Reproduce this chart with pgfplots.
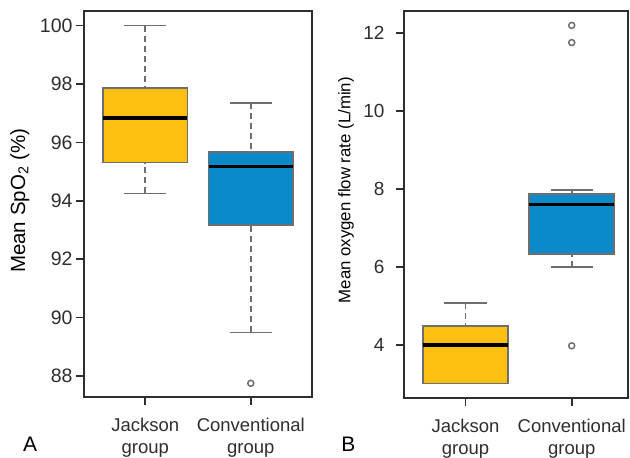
\documentclass[border=0pt]{standalone}
\usepackage{pgfplots}
\pgfplotsset{compat=1.18}
\usepgfplotslibrary{statistics}
\usepackage{fontspec}
\setmainfont{Liberation Sans}
\definecolor{jyellow}{HTML}{FDC010}
\definecolor{cblue}{HTML}{0A8AC8}
\definecolor{boxgray}{HTML}{6E6E6E}
\definecolor{axgray}{HTML}{2E2E2E}
\pgfplotsset{
  panel/.style={
    scale only axis,
    anchor=south west,
    clip mode=individual,
    axis line style={axgray, line width=1.8pt},
    tick pos=left,
    tick align=outside,
    major tick length=8pt,
    tick style={axgray, line width=1.6pt},
    xtick={1,2},
    xticklabels={{Jackson\\group},{Conventional\\group}},
    xticklabel style={align=center, font=\fontsize{18.5}{21.5}\selectfont, text=axgray, yshift=-10pt},
    yticklabel style={font=\fontsize{19.5}{22}\selectfont, text=axgray},
    /pgf/number format/assume math mode=true,
    boxplot/draw direction=y,
    boxplot/box extend=0.8,
    boxplot/whisker extend=0.4,
    boxplot/draw/lower whisker/.code={%
      \draw[boxgray, line width=1.7pt, dash pattern=on 6pt off 4pt]
        (boxplot cs:\pgfplotsboxplotvalue{lower whisker}) --
        (boxplot cs:\pgfplotsboxplotvalue{lower quartile});
      \draw[boxgray, line width=1.7pt]
        (boxplot whisker cs:\pgfplotsboxplotvalue{lower whisker},0) --
        (boxplot whisker cs:\pgfplotsboxplotvalue{lower whisker},1);
    },
    boxplot/draw/upper whisker/.code={%
      \draw[boxgray, line width=1.7pt, dash pattern=on 6pt off 4pt]
        (boxplot cs:\pgfplotsboxplotvalue{upper whisker}) --
        (boxplot cs:\pgfplotsboxplotvalue{upper quartile});
      \draw[boxgray, line width=1.7pt]
        (boxplot whisker cs:\pgfplotsboxplotvalue{upper whisker},0) --
        (boxplot whisker cs:\pgfplotsboxplotvalue{upper whisker},1);
    },
    boxplot/every median/.style={black, line width=3.4pt},
  },
  ybox/.style={boxplot/every box/.style={fill=jyellow, draw=boxgray, line width=1.6pt}},
  bbox/.style={boxplot/every box/.style={fill=cblue, draw=boxgray, line width=1.6pt}},
  outl/.style={only marks, mark=o, mark size=3pt, boxgray, mark options={line width=1.5pt}},
}
\begin{document}
\begin{tikzpicture}
\useasboundingbox (0,0) rectangle (630pt,458pt);
% Panel A
\begin{axis}[panel,
  at={(84pt,61pt)}, width=228pt, height=386pt,
  xmin=0.42, xmax=2.58, ymin=87.28, ymax=100.5,
  ytick={88,90,92,94,96,98,100},
  ylabel={Mean SpO\textsubscript{2} (\%)},
  ylabel style={at={(axis description cs:-0.281,0.508)}, anchor=center, font=\fontsize{20.5}{24}\selectfont, text=black},
]
\addplot[ybox, boxplot prepared={draw position=1,
  lower whisker=94.25, lower quartile=95.31, median=96.84,
  upper quartile=97.86, upper whisker=100.0}] coordinates {};
\addplot[bbox, boxplot prepared={draw position=2,
  lower whisker=89.49, lower quartile=93.18, median=95.18,
  upper quartile=95.68, upper whisker=97.34}] coordinates {};
\addplot[outl] coordinates {(2,87.75)};
\node[anchor=base west, inner sep=0pt, font=\fontsize{21}{24}\selectfont] at (axis description cs:-0.2675,-0.142) {A};
\end{axis}
% Panel B
\begin{axis}[panel,
  at={(404pt,60pt)}, width=224pt, height=387pt,
  xmin=0.42, xmax=2.53, ymin=2.64, ymax=12.57,
  ytick={4,6,8,10,12},
  yticklabel style={font=\fontsize{19}{22}\selectfont, xshift=-8pt},
  ylabel={Mean oxygen flow rate (L/min)},
  ylabel style={at={(axis description cs:-0.259,0.537)}, anchor=center, font=\fontsize{16.8}{19}\selectfont, text=black},
]
\addplot[ybox, boxplot prepared={draw position=1,
  lower whisker=3.01, lower quartile=3.01, median=4.0,
  upper quartile=4.48, upper whisker=5.08}] coordinates {};
\addplot[bbox, boxplot prepared={draw position=2,
  lower whisker=6.0, lower quartile=6.33, median=7.6,
  upper quartile=7.87, upper whisker=7.98}] coordinates {};
\addplot[outl] coordinates {(2,12.2) (2,11.76) (2,3.98)};
\node[anchor=base west, inner sep=0pt, font=\fontsize{21}{24}\selectfont] at (axis description cs:-0.281,-0.139) {B};
\end{axis}
\end{tikzpicture}
\end{document}
